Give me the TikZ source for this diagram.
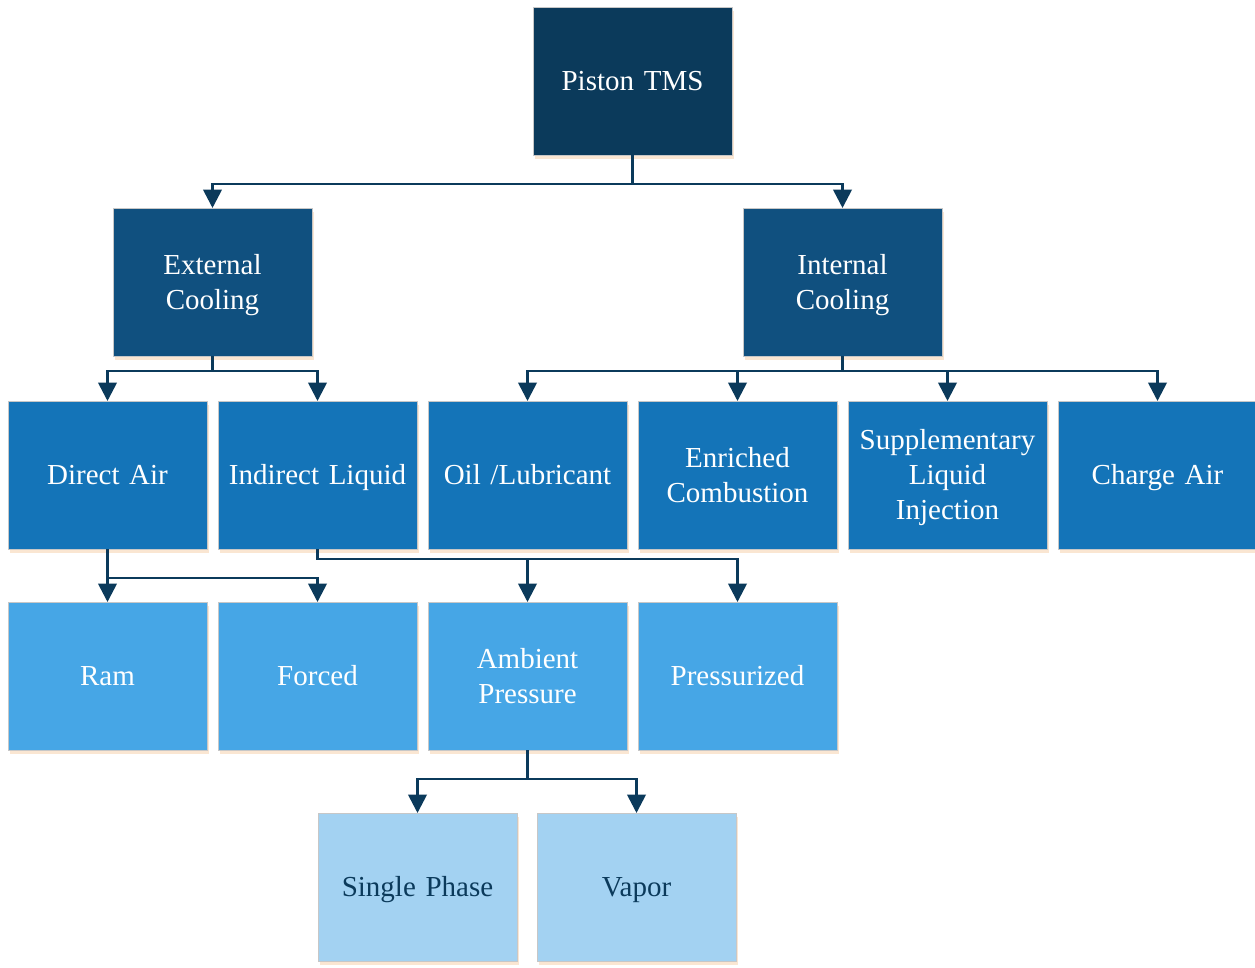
\documentclass[tikz,border=0pt]{standalone}
\usepackage{fontspec}
\setmainfont{Liberation Serif}
\usetikzlibrary{arrows.meta, positioning, shadows}
\definecolor{tmscolor}{RGB}{11,58,91}
\definecolor{branchcolor}{RGB}{16,80,127}
\definecolor{methodcolor}{RGB}{20,116,184}
\definecolor{modecolor}{RGB}{70,166,230}
\definecolor{phasecolor}{RGB}{163,210,242}
\definecolor{shadowcolor}{RGB}{250,230,210}

\begin{document}
\begin{tikzpicture}[x=0.6pt, y=-0.6pt, node distance=6.6pt,
    box/.style={rectangle, draw=black!22, line width=0.6pt, minimum width=119.4pt, minimum height=88.8pt,
        inner xsep=2pt, outer sep=0pt, text width=112pt, align=center,
        font=\fontsize{17.4}{21}\selectfont, text=white,
        execute at begin node={\rule{0pt}{17.8pt}}, execute at end node=\strut,
        drop shadow={shadow xshift=1.2pt, shadow yshift=-2.4pt, fill=shadowcolor, opacity=1}},
    tms/.style={box, fill=tmscolor},
    branch/.style={box, fill=branchcolor},
    method/.style={box, fill=methodcolor},
    mode/.style={box, fill=modecolor},
    phase/.style={box, fill=phasecolor, text=tmscolor},
    arrow/.style={-{Triangle[width=11pt, length=11pt]}, line width=1.6pt, draw=tmscolor}]

    \useasboundingbox (0,0) rectangle (1255,967);

    % Nodes
    \node [tms] (piston) at (632.5,81) {Piston TMS};
    \node [branch] (external) at (212.5,282) {External\\Cooling};
    \node [branch] (internal) at (842.5,282) {Internal\\Cooling};

    \node [method] (direct) at (107.5,475) {Direct Air};
    \node [method, right=of direct] (indirect) {Indirect Liquid};
    \node [method, right=of indirect] (oil) {Oil /Lubricant};
    \node [method, right=of oil] (enriched) {Enriched\\Combustion};
    \node [method, right=of enriched] (supplementary) {Supplementary\\Liquid\\Injection};
    \node [method, right=of supplementary] (charge) {Charge Air};

    \node [mode] (ram) at (107.5,676) {Ram};
    \node [mode, right=of ram] (forced) {Forced};
    \node [mode, right=of forced] (ambient) {Ambient\\Pressure};
    \node [mode, right=of ambient] (pressurized) {Pressurized};

    \node [phase] (single) at (417.5,887) {Single Phase};
    \node [phase, right=12pt of single] (vapor) {Vapor};

    % Arrows
    \draw [arrow] (piston.south) -- ++(0,29) -| (external.north);
    \draw [arrow] (piston.south) -- ++(0,29) -| (internal.north);

    \draw [arrow] (external.south) -- ++(0,15) -| (direct.north);
    \draw [arrow] (external.south) -- ++(0,15) -| (indirect.north);

    \draw [arrow] (internal.south) -- ++(0,15) -| (oil.north);
    \draw [arrow] (internal.south) -- ++(0,15) -| (enriched.north);
    \draw [arrow] (internal.south) -- ++(0,15) -| (supplementary.north);
    \draw [arrow] (internal.south) -- ++(0,15) -| (charge.north);

    \draw [arrow] (direct.south) -- (ram.north);
    \draw [arrow] (direct.south) -- ++(0,29) -| (forced.north);

    \draw [arrow] (indirect.south) -- ++(0,10) -| (ambient.north);
    \draw [arrow] (indirect.south) -- ++(0,10) -| (pressurized.north);

    \draw [arrow] (ambient.south) -- ++(0,29) -| (single.north);
    \draw [arrow] (ambient.south) -- ++(0,29) -| (vapor.north);

\end{tikzpicture}
\end{document}
